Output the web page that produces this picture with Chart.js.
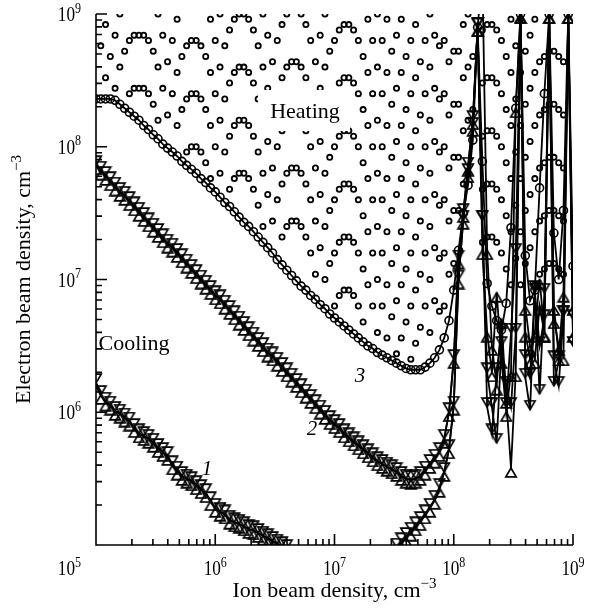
<!DOCTYPE html>
<html>
<head>
<meta charset="utf-8">
<script src="https://cdn.jsdelivr.net/npm/chart.js@4.4.0/dist/chart.umd.min.js"></script>
<style>
  html, body { margin: 0; background: #fff; }
  canvas { display: block; }
</style>
</head>
<body>
<canvas id="chart" width="592" height="613"></canvas>
<script>
// all values are log10 of the density (cm^-3)
// ion beam density grid shared by every series
const logX = [
  5.00,5.04,5.08,5.12,5.16,5.20,5.24,5.28,5.32,5.36,
  5.40,5.44,5.48,5.52,5.56,5.60,5.64,5.68,5.72,5.76,
  5.80,5.84,5.88,5.92,5.96,6.00,6.04,6.08,6.12,6.16,
  6.20,6.24,6.28,6.32,6.36,6.40,6.44,6.48,6.52,6.56,
  6.60,6.64,6.68,6.72,6.76,6.80,6.84,6.88,6.92,6.96,
  7.00,7.04,7.08,7.12,7.16,7.20,7.24,7.28,7.32,7.36,
  7.40,7.44,7.48,7.52,7.56,7.60,7.64,7.68,7.72,7.76,
  7.80,7.84,7.88,7.92,7.96,8.00,8.04,8.08,8.12,8.16,
  8.20,8.24,8.28,8.32,8.36,8.40,8.44,8.48,8.52,8.56,
  8.60,8.64,8.68,8.72,8.76,8.80,8.84,8.88,8.92,8.96,
  9.00
];

// curve 1 (triangles), common part up to 1.6e8
const curve1 = [
  6.22,6.13,6.08,6.05,6.01,5.99,5.96,5.93,5.88,5.84,
  5.82,5.80,5.77,5.73,5.70,5.67,5.60,5.56,5.52,5.50,
  5.48,5.45,5.42,5.39,5.33,5.28,5.25,5.23,5.19,5.17,
  5.16,5.14,5.12,5.11,5.09,5.07,5.05,5.03,5.01,4.99,
  4.97,null,null,null,null,null,null,null,null,null,
  null,null,null,null,null,null,null,null,null,null,
  null,null,null,4.98,5.02,5.06,5.10,5.14,5.18,5.23,
  5.28,5.34,5.43,5.55,5.72,6.05,7.00,7.45,7.80,8.15,
  8.90
];
const curve1UpTail = [9.30,7.22,6.50,6.20,6.70,6.10,5.58,6.30,9.00,6.80,6.50,6.40,6.80,6.60,9.00,6.70,6.50,6.42,9.00,6.60];
const curve1DownTail = [7.45,6.04,5.84,6.30,6.60,6.04,6.60,7.20,9.00,6.26,6.02,6.92,6.14,6.90,9.00,6.39,6.20,6.73,9.00,6.50];

// curve 2 (triangles)
const curve2 = [
  7.86,7.82,7.78,7.74,7.70,7.66,7.63,7.59,7.55,7.51,
  7.47,7.43,7.39,7.35,7.31,7.27,7.24,7.20,7.16,7.12,
  7.08,7.04,7.00,6.96,6.92,6.88,6.85,6.81,6.77,6.73,
  6.69,6.65,6.61,6.57,6.53,6.49,6.45,6.42,6.38,6.34,
  6.30,6.26,6.22,6.18,6.14,6.10,6.06,6.02,5.98,5.94,
  5.91,5.88,5.84,5.81,5.78,5.75,5.72,5.69,5.66,5.63,
  5.61,5.59,5.57,5.55,5.52,5.50,5.49,5.50,5.52,5.56,
  5.61,5.65,5.70,5.80,6.00,6.40,7.15,7.50,7.85,8.20,
  8.90
];
const curve2UpTail = [7.22,6.60,6.30,6.90,6.40,6.00,6.30,8.29,9.00,6.60,6.40,6.60,7.00,6.60,9.00,6.80,6.42,6.90,9.00,6.80];
const curve2DownTail = [7.45,6.30,6.04,5.77,6.50,6.20,6.04,6.60,9.00,6.40,6.26,6.90,6.50,6.70,9.00,6.20,6.39,6.73,9.00,6.70];

// curve 3 (open circles)
const curve3 = [
  8.36,8.36,8.36,8.36,8.35,8.32,8.29,8.26,8.23,8.20,
  8.16,8.13,8.09,8.06,8.02,7.99,7.96,7.93,7.89,7.86,
  7.83,7.80,7.76,7.73,7.69,7.66,7.62,7.58,7.55,7.51,
  7.47,7.43,7.40,7.36,7.32,7.28,7.24,7.20,7.15,7.11,
  7.07,7.03,6.99,6.95,6.92,6.88,6.85,6.81,6.78,6.74,
  6.71,6.68,6.65,6.62,6.59,6.56,6.53,6.50,6.48,6.45,
  6.43,6.41,6.39,6.37,6.35,6.33,6.32,6.32,6.32,6.34,
  6.37,6.41,6.47,6.56,6.69,6.92,7.22,7.50,7.71,8.05,
  8.90,7.89,6.97,6.80,6.69,6.62,6.82,7.39,8.29,9.00,
  7.18,6.84,6.92,7.69,8.40,9.00,7.35,7.00,7.52,9.00,
  7.10
];

// heating region marks: electron densities marked in each ion density column of logX
const heatY = [
  [], [8.76], [8.92,8.52], [8.68], [8.84,8.44], [9.00,8.60], [8.72], [8.80,8.40], [8.84,8.44], [8.84,8.44],
  [8.84,8.44], [8.80,8.40], [8.72,8.32], [9.00,8.60,8.20], [8.84,8.44], [8.64,8.24], [8.80,8.40], [8.96,8.56,8.16], [8.68,8.28], [8.76,8.36,7.96],
  [8.80,8.40,8.00], [8.80,8.40,8.00], [8.76,8.36,7.96], [8.68,8.28,7.88], [8.96,8.56,8.16,7.76], [8.80,8.40,8.00], [9.00,8.60,8.20,7.80], [8.76,8.36,7.96], [8.88,8.48,8.08,7.68], [8.96,8.56,8.16,7.76],
  [9.00,8.60,8.20,7.80], [9.00,8.60,8.20,7.80], [8.96,8.56,8.16,7.76], [8.88,8.48,8.08,7.68], [8.76,8.36,7.96,7.56], [9.00,8.60,8.20,7.80,7.40], [8.84,8.44,8.04,7.64], [8.64,8.24,7.84,7.44], [8.80,8.40,8.00,7.60], [8.92,8.52,8.12,7.72,7.32],
  [9.00,8.60,8.20,7.80,7.40], [8.64,8.24,7.84,7.44], [8.64,8.24,7.84,7.44], [9.00,8.60,8.20,7.80,7.40], [8.92,8.52,8.12,7.72,7.32], [8.80,8.40,8.00,7.60,7.20], [8.64,8.24,7.84,7.44,7.04], [8.84,8.44,8.04,7.64,7.24], [9.00,8.60,8.20,7.80,7.40,7.00], [8.72,8.32,7.92,7.52,7.12],
  [8.80,8.40,8.00,7.60,7.20,6.80], [8.88,8.48,8.08,7.68,7.28,6.88], [8.92,8.52,8.12,7.72,7.32,6.92], [8.92,8.52,8.12,7.72,7.32,6.92], [8.88,8.48,8.08,7.68,7.28,6.88], [8.80,8.40,8.00,7.60,7.20,6.80], [8.68,8.28,7.88,7.48,7.08,6.68], [8.96,8.56,8.16,7.76,7.36,6.96], [8.80,8.40,8.00,7.60,7.20,6.80], [9.00,8.60,8.20,7.80,7.40,7.00,6.60],
  [8.80,8.40,8.00,7.60,7.20,6.80], [8.96,8.56,8.16,7.76,7.36,6.96,6.56], [8.72,8.32,7.92,7.52,7.12,6.72], [8.84,8.44,8.04,7.64,7.24,6.84,6.44], [8.96,8.56,8.16,7.76,7.36,6.96,6.56], [8.68,8.28,7.88,7.48,7.08,6.68], [8.80,8.40,8.00,7.60,7.20,6.80,6.40], [8.92,8.52,8.12,7.72,7.32,6.92,6.52], [8.64,8.24,7.84,7.44,7.04,6.64], [8.80,8.40,8.00,7.60,7.20,6.80],
  [9.00,8.60,8.20,7.80,7.40,7.00,6.60], [8.84,8.44,8.04,7.64,7.24,6.84], [8.76,8.36,7.96,7.56,7.16,6.76], [8.80,8.40,8.00,7.60,7.20,6.80], [8.64,8.24,7.84,7.44,7.04], [8.72,8.32,7.92,7.52,7.12], [8.72,8.32,7.92,7.52], [8.92,8.52,8.12,7.72], [9.00,8.60,8.20,7.80], [8.68,8.28],
  [], [8.88,8.48,8.08,7.68,7.28], [8.92,8.52,8.12,7.72,7.32], [8.92,8.52,8.12,7.72,7.32], [8.88,8.48,8.08,7.68,7.28], [8.80,8.40,8.00,7.60,7.20], [8.68,8.28,7.88,7.48,7.08], [8.96,8.56,8.16,7.76,7.36,6.96], [8.76,8.36,7.96,7.56,7.16], [8.96,8.56,8.16,7.76,7.36,6.96],
  [8.72,8.32,7.92,7.52,7.12], [8.84,8.44,8.04,7.64,7.24], [8.96,8.56,8.16,7.76,7.36,6.96], [8.64,8.24,7.84,7.44,7.04], [8.68,8.28,7.88,7.48,7.08], [8.72,8.32,7.92,7.52,7.12], [8.72,8.32,7.92,7.52,7.12], [8.68,8.28,7.88,7.48,7.08], [8.64,8.24,7.84,7.44,7.04]
];

const serif = '"Liberation Serif", "Times New Roman", serif';

const toPoints = vals => vals.map((v, j) => ({ x: 10 ** logX[j], y: v == null ? null : 10 ** v }));
const heatPoints = heatY.flatMap((col, j) => col.map(v => ({ x: 10 ** logX[j], y: 10 ** v })));

// open triangle with its tip on the data point
function makeTriangle() {
  const c = document.createElement('canvas');
  c.width = 14;
  c.height = 20;
  const g = c.getContext('2d');
  g.strokeStyle = '#000';
  g.lineWidth = 1.7;
  g.lineJoin = 'miter';
  g.beginPath();
  g.moveTo(7, 10);
  g.lineTo(12.2, 18.8);
  g.lineTo(1.8, 18.8);
  g.closePath();
  g.stroke();
  return c;
}
const tri = makeTriangle();

function curve(vals, extra) {
  return Object.assign({
    data: toPoints(vals),
    showLine: true,
    borderColor: '#000',
    borderWidth: 1.8,
    tension: 0,
    pointBorderColor: '#000',
    pointBackgroundColor: 'rgba(0,0,0,0)',
    pointRadius: 4,
    clip: 0
  }, extra);
}

// text with superscripts: parts = [{t, size, dy, style}]
function rich(ctx, parts, x, y, align, sx) {
  sx = sx || 1;
  let w = 0;
  parts.forEach(p => {
    ctx.font = (p.style || '') + ' ' + p.size + 'px ' + serif;
    p.w = ctx.measureText(p.t).width;
    w += p.w;
  });
  let cx = align === 'right' ? -w : align === 'center' ? -w / 2 : 0;
  ctx.save();
  ctx.translate(x, y);
  ctx.scale(sx, 1);
  ctx.textAlign = 'left';
  ctx.textBaseline = 'alphabetic';
  ctx.fillStyle = '#000';
  parts.forEach(p => {
    ctx.font = (p.style || '') + ' ' + p.size + 'px ' + serif;
    ctx.fillText(p.t, cx, p.dy || 0);
    cx += p.w;
  });
  ctx.restore();
}

const pow10 = e => [{ t: '10', size: 20 }, { t: String(e), size: 14, dy: -8.5 }];

const framePlugin = {
  id: 'frame',
  afterDatasetsDraw(chart) {
    const { ctx, chartArea: a, scales: { x, y } } = chart;
    ctx.save();

    // region label sits on a white patch
    ctx.fillStyle = '#fff';
    ctx.fillRect(258, 90, 92, 41);
    rich(ctx, [{ t: 'Heating', size: 22 }], 305, 118, 'center');
    rich(ctx, [{ t: 'Cooling', size: 22 }], 134, 350, 'center');
    rich(ctx, [{ t: '1', size: 21, style: 'italic' }], 207, 475, 'center');
    rich(ctx, [{ t: '2', size: 21, style: 'italic' }], 312, 435, 'center');
    rich(ctx, [{ t: '3', size: 21, style: 'italic' }], 360, 382, 'center');

    // axes with inward ticks
    ctx.strokeStyle = '#000';
    ctx.lineWidth = 1.6;
    ctx.beginPath();
    ctx.moveTo(a.left, a.top);
    ctx.lineTo(a.left, a.bottom);
    ctx.lineTo(a.right, a.bottom);
    for (let e = 5; e <= 9; e++) {
      for (let m = 1; m <= 9; m++) {
        if (e === 9 && m > 1) break;
        const v = m * 10 ** e;
        const len = m === 1 ? 11 : 6;
        const px = x.getPixelForValue(v);
        const py = y.getPixelForValue(v);
        ctx.moveTo(px, a.bottom);
        ctx.lineTo(px, a.bottom - len);
        ctx.moveTo(a.left, py);
        ctx.lineTo(a.left + len, py);
      }
    }
    ctx.stroke();

    // decade labels
    for (let e = 6; e <= 9; e++) {
      rich(ctx, pow10(e), x.getPixelForValue(10 ** e), 575, 'center', 0.86);
      rich(ctx, pow10(e), 81, y.getPixelForValue(10 ** e) + 7, 'right', 0.86);
    }
    rich(ctx, pow10(5), 81, 575, 'right', 0.86);

    // axis titles
    rich(ctx, [{ t: 'Ion beam density, cm', size: 22 }, { t: '\u22123', size: 15, dy: -9 }],
      (a.left + a.right) / 2, 597, 'center');
    ctx.save();
    ctx.translate(30, (a.top + a.bottom) / 2);
    ctx.rotate(-Math.PI / 2);
    rich(ctx, [{ t: 'Electron beam density, cm', size: 22 }, { t: '\u22123', size: 15, dy: -9 }],
      0, 0, 'center');
    ctx.restore();

    ctx.restore();
  }
};

new Chart(document.getElementById('chart'), {
  type: 'scatter',
  data: {
    datasets: [
      curve(curve1.concat(curve1UpTail), { pointStyle: tri, pointRotation: 0 }),
      curve(curve1.concat(curve1DownTail), { pointStyle: tri, pointRotation: 180 }),
      curve(curve2.concat(curve2UpTail), { pointStyle: tri, pointRotation: 0 }),
      curve(curve2.concat(curve2DownTail), { pointStyle: tri, pointRotation: 180 }),
      curve(curve3, { pointStyle: 'circle', pointRadius: 4, pointBorderWidth: 1.6 }),
      {
        data: heatPoints,
        showLine: false,
        pointStyle: 'circle',
        pointRadius: 2.6,
        pointBorderWidth: 1.8,
        pointBorderColor: '#000',
        pointBackgroundColor: 'rgba(0,0,0,0)',
        clip: 0
      }
    ]
  },
  options: {
    animation: false,
    responsive: false,
    devicePixelRatio: 1,
    events: [],
    layout: { padding: { left: 96, right: 19, top: 14, bottom: 68 } },
    plugins: { legend: { display: false }, tooltip: { enabled: false } },
    scales: {
      x: { type: 'logarithmic', min: 1e5, max: 1e9, display: false },
      y: { type: 'logarithmic', min: 1e5, max: 1e9, display: false }
    }
  },
  plugins: [framePlugin]
});
</script>
</body>
</html>
